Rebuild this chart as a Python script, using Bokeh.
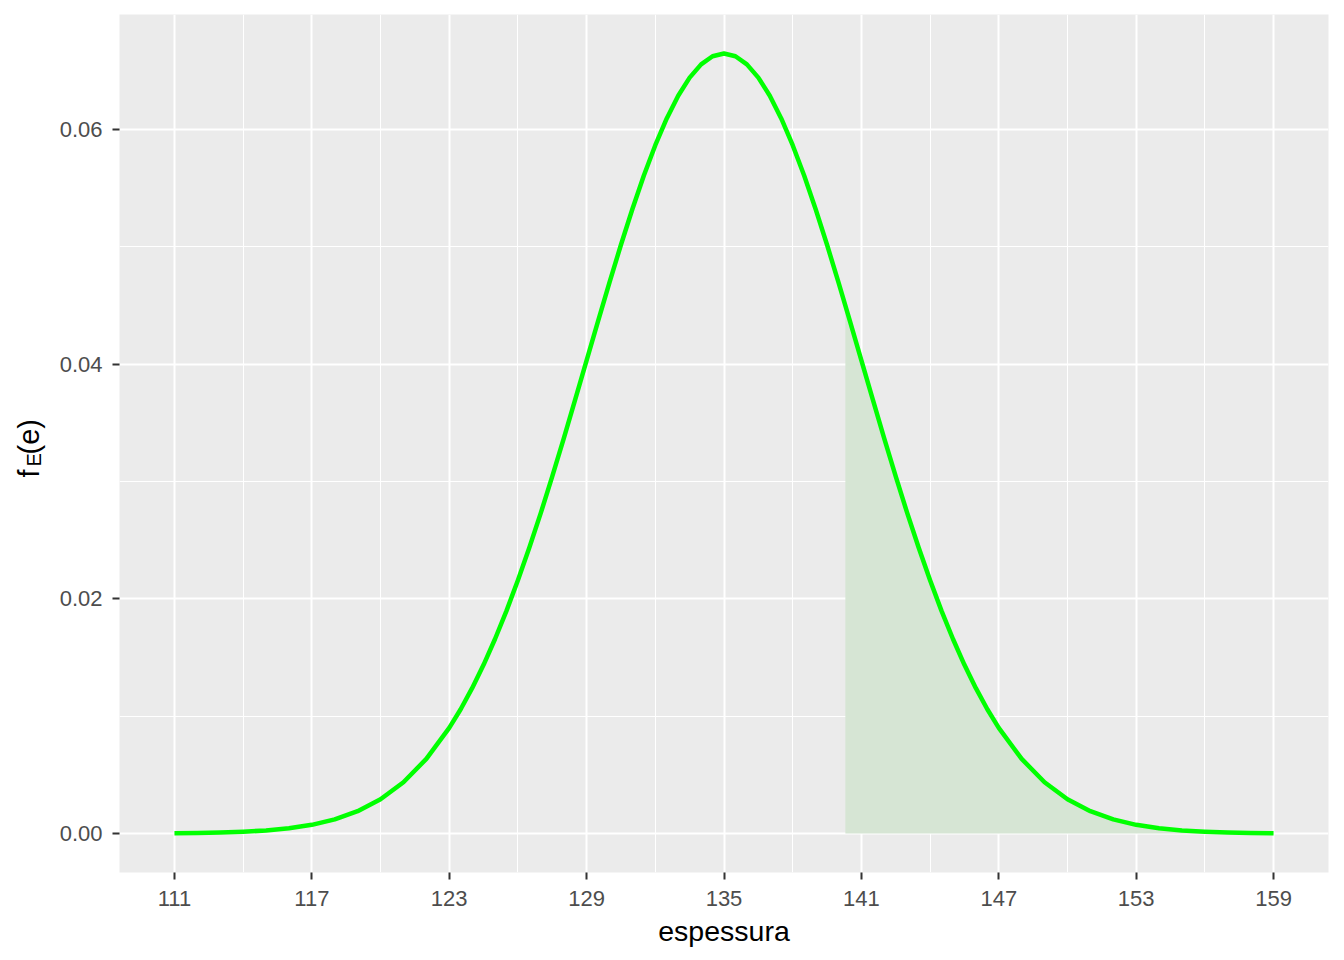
import math
from bokeh.plotting import figure
from bokeh.layouts import row
from bokeh.models import FixedTicker, PrintfTickFormatter, Range1d, Label
from bokeh.embed import file_html
from bokeh.resources import INLINE

# ---- data ----
espessura = [111, 112, 113, 114, 115, 116, 117, 118, 119, 120, 121, 122,
             123, 123.5, 124, 124.5, 125, 125.5, 126, 126.5, 127, 127.5, 128, 128.5,
             129, 129.5, 130, 130.5, 131, 131.5, 132, 132.5, 133, 133.5, 134, 134.5,
             135, 135.5, 136, 136.5, 137, 137.5, 138, 138.5, 139, 139.5, 140, 140.5,
             141, 141.5, 142, 142.5, 143, 143.5, 144, 144.5, 145, 145.5, 146, 146.5,
             147, 148, 149, 150, 151, 152, 153, 154, 155, 156, 157, 158, 159]
densidade = [0.00002, 0.00004, 0.00008, 0.00015, 0.00026, 0.00044, 0.00074, 0.00120, 0.00190, 0.00292, 0.00437, 0.00636,
             0.00900, 0.01059, 0.01239, 0.01438, 0.01658, 0.01898, 0.02159, 0.02438, 0.02733, 0.03044, 0.03367, 0.03698,
             0.04033, 0.04368, 0.04698, 0.05019, 0.05324, 0.05609, 0.05868, 0.06096, 0.06290, 0.06444, 0.06557, 0.06626,
             0.06649, 0.06626, 0.06557, 0.06444, 0.06290, 0.06096, 0.05868, 0.05609, 0.05324, 0.05019, 0.04698, 0.04368,
             0.04033, 0.03698, 0.03367, 0.03044, 0.02733, 0.02438, 0.02159, 0.01898, 0.01658, 0.01438, 0.01239, 0.01059,
             0.00900, 0.00636, 0.00437, 0.00292, 0.00190, 0.00120, 0.00074, 0.00044, 0.00026, 0.00015, 0.00008, 0.00004, 0.00002]

area_x = [140.3, 140.5, 141, 141.5, 142, 142.5, 143, 143.5, 144, 144.5, 145, 145.5, 146, 146.5,
          147, 148, 149, 150, 151, 152, 153, 154, 155, 156, 157, 158, 159]
area_y = [0.04501, 0.04368, 0.04033, 0.03698, 0.03367, 0.03044, 0.02733, 0.02438, 0.02159, 0.01898, 0.01658, 0.01438, 0.01239, 0.01059,
          0.00900, 0.00636, 0.00437, 0.00292, 0.00190, 0.00120, 0.00074, 0.00044, 0.00026, 0.00015, 0.00008, 0.00004, 0.00002]

x_ticks = [111, 117, 123, 129, 135, 141, 147, 153, 159]
x_minor = [114, 120, 126, 132, 138, 144, 150, 156]
y_ticks = [0.0, 0.02, 0.04, 0.06]
y_minor = [0.01, 0.03, 0.05]
y_title_parts = ["f", "E", "(e)"]

FONT = "Liberation Sans"
H = 952
LW = 52

# ---- narrow strip holding the y-axis title f_E(e) ----
side = figure(width=LW, height=H, output_backend="svg", toolbar_location=None,
              x_range=Range1d(0, LW), y_range=Range1d(0, H),
              x_axis_type=None, y_axis_type=None,
              min_border_left=0, min_border_right=0, min_border_top=14, min_border_bottom=80)
side.outline_line_color = None
side.background_fill_color = "white"
side.border_fill_color = "white"
lab_kw = dict(x_units="screen", y_units="screen", angle=math.pi / 2, text_font=FONT,
              text_color="black", text_align="left", text_baseline="alphabetic")
side.add_layout(Label(x=28, y=395, text=y_title_parts[0], text_font_size="29px", **lab_kw))
side.add_layout(Label(x=33, y=406, text=y_title_parts[1], text_font_size="20px", **lab_kw))
side.add_layout(Label(x=28, y=418, text=y_title_parts[2], text_font_size="29px", **lab_kw))

# ---- main panel ----
p = figure(width=1336 - LW, height=H, output_backend="svg", toolbar_location=None,
           x_range=Range1d(108.6, 161.4), y_range=Range1d(-0.003325, 0.06982),
           min_border_left=119 - LW, min_border_right=8, min_border_top=14, min_border_bottom=80)
p.background_fill_color = "#EBEBEB"
p.border_fill_color = "white"
p.outline_line_color = None

p.varea(x=area_x, y1=[0] * len(area_x), y2=area_y, fill_color="#D6E5D4", fill_alpha=1.0)
p.line(espessura, densidade, line_color="#00FF00", line_width=4.5, line_join="round")

for ax in (p.xaxis[0], p.yaxis[0]):
    ax.axis_line_color = None
    ax.major_tick_out = 7
    ax.major_tick_in = 0
    ax.minor_tick_out = 0
    ax.minor_tick_in = 0
    ax.major_tick_line_color = "#333333"
    ax.major_tick_line_width = 2
    ax.major_label_text_font = FONT
    ax.major_label_text_font_size = "22px"
    ax.major_label_text_color = "#4D4D4D"
    ax.axis_label_text_font = FONT
    ax.axis_label_text_font_size = "28.5px"
    ax.axis_label_text_font_style = "normal"
    ax.axis_label_text_color = "black"

p.xaxis.major_label_standoff = 11
p.yaxis.major_label_standoff = 10
p.xaxis.ticker = FixedTicker(ticks=x_ticks, minor_ticks=x_minor)
p.yaxis.ticker = FixedTicker(ticks=y_ticks, minor_ticks=y_minor)
p.yaxis.formatter = PrintfTickFormatter(format="%.2f")
p.xaxis.axis_label = "espessura"
p.xaxis.axis_label_standoff = 6

for g in (p.xgrid[0], p.ygrid[0]):
    g.grid_line_color = "white"
    g.grid_line_width = 2
    g.minor_grid_line_color = "white"
    g.minor_grid_line_width = 1

layout = row(side, p, spacing=0)
open("out.html", "w").write(file_html(layout, INLINE))
